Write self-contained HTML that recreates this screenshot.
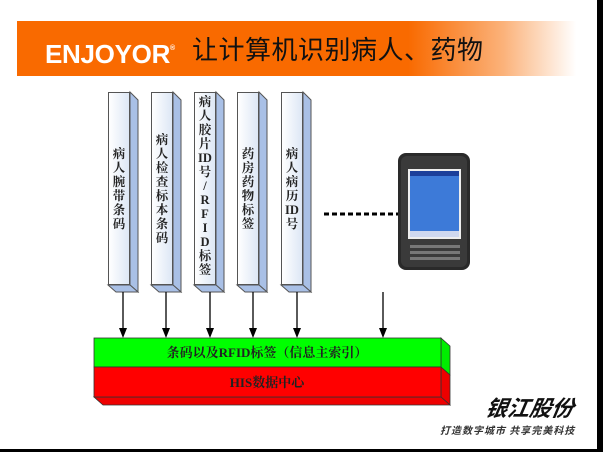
<!DOCTYPE html>
<html><head><meta charset="utf-8"><style>
body{margin:0;width:603px;height:452px;overflow:hidden;background:#fff;position:relative;font-family:"Liberation Serif","Noto Serif CJK SC",serif}
.banner{position:absolute;left:17px;top:21px;width:559px;height:55px;background:linear-gradient(90deg,#f96a00 0%,#f96a00 70%,#fbb27a 87%,#fff 100%)}
.en{position:absolute;left:45px;top:35px;font:bold 26px "Liberation Sans",sans-serif;color:#fff;letter-spacing:-0.3px;line-height:28px}
.ti{position:absolute;left:192px;top:30px;font:26px "Noto Sans CJK SC",sans-serif;color:#111;letter-spacing:0.5px;line-height:38px}
.col{position:absolute;top:92px;width:22px;height:193px;background:linear-gradient(90deg,#fff,#dde7f5);border:1px solid #555;box-sizing:border-box;display:flex;flex-direction:column;align-items:center;justify-content:center;font-size:12.5px;line-height:14px;font-weight:bold;color:#222}
.col span{display:block;text-align:center}
</style></head><body>
<div class="banner"></div>
<div class="en">ENJOYOR<sup style="font-size:7px;vertical-align:13px">®</sup></div>
<div class="ti">让计算机识别病人、药物</div>
<svg width="603" height="452" style="position:absolute;left:0;top:0">
<g fill="#a9c0e6" stroke="#555" stroke-width="1">
<polygon points="130,92 138,100 138,292 130,285"/><polygon points="108,285 130,285 138,292 116,292"/>
<polygon points="173,92 181,100 181,292 173,285"/><polygon points="151,285 173,285 181,292 159,292"/>
<polygon points="216,92 224,100 224,292 216,285"/><polygon points="194,285 216,285 224,292 202,292"/>
<polygon points="259,92 267,100 267,292 259,285"/><polygon points="237,285 259,285 267,292 245,292"/>
<polygon points="303,92 311,100 311,292 303,285"/><polygon points="281,285 303,285 311,292 289,292"/>
</g>
<g stroke="#000" stroke-width="1.3">
<line x1="123" y1="292" x2="123" y2="330"/><line x1="166" y1="292" x2="166" y2="330"/><line x1="210" y1="292" x2="210" y2="330"/><line x1="253" y1="292" x2="253" y2="330"/><line x1="297" y1="292" x2="297" y2="330"/><line x1="383" y1="292" x2="383" y2="330"/>
</g>
<g fill="#000">
<polygon points="119,328 127,328 123,338"/><polygon points="162,328 170,328 166,338"/><polygon points="206,328 214,328 210,338"/><polygon points="249,328 257,328 253,338"/><polygon points="293,328 301,328 297,338"/><polygon points="379,328 387,328 383,338"/>
</g>
<line x1="324" y1="214" x2="398" y2="214" stroke="#000" stroke-width="3" stroke-dasharray="5,3"/>
<polygon points="441,338 450,346 450,375 441,367" fill="#00ee00" stroke="#333" stroke-width="0.8"/>
<rect x="94" y="338" width="347" height="29" fill="#00ff00" stroke="#333" stroke-width="0.8"/>
<polygon points="441,367 450,375 450,405 441,397" fill="#ee0000" stroke="#333" stroke-width="0.8"/>
<polygon points="94,397 441,397 450,405 103,405" fill="#ee0000" stroke="#333" stroke-width="0.8"/>
<rect x="94" y="367" width="347" height="30" fill="#ff0000" stroke="#333" stroke-width="0.8"/>
<text x="267" y="357" font-size="13" font-weight="bold" text-anchor="middle" fill="#222">条码以及RFID标签（信息主索引）</text>
<text x="267" y="387" font-size="13" font-weight="bold" text-anchor="middle" fill="#222">HIS数据中心</text>
<rect x="398" y="153" width="72" height="117" rx="8" fill="#2a2a2a"/>
<rect x="401" y="156" width="66" height="111" rx="6" fill="#3a3a3a"/>
<rect x="408" y="169" width="53" height="70" fill="#eee"/>
<rect x="410" y="171" width="49" height="66" fill="#3d7ad8"/>
<rect x="410" y="171" width="49" height="5" fill="#1c3f9a"/>
<rect x="410" y="231" width="49" height="6" fill="#cfd8ef"/>
<g fill="#777"><rect x="410" y="245" width="50" height="3"/><rect x="410" y="251" width="50" height="3"/><rect x="410" y="257" width="50" height="3"/></g>
<rect x="597" y="0" width="6" height="452" fill="#000"/>
<rect x="0" y="449" width="603" height="3" fill="#000"/>
</svg>
<div class="col" style="left:108px"><span>病<br>人<br>腕<br>带<br>条<br>码</span></div>
<div class="col" style="left:151px"><span>病<br>人<br>检<br>查<br>标<br>本<br>条<br>码</span></div>
<div class="col" style="left:194px;justify-content:flex-start;padding-top:2px"><span>病<br>人<br>胶<br>片<br>ID<br>号<br>/<br>R<br>F<br>I<br>D<br>标<br>签</span></div>
<div class="col" style="left:237px"><span>药<br>房<br>药<br>物<br>标<br>签</span></div>
<div class="col" style="left:281px"><span>病<br>人<br>病<br>历<br>ID<br>号</span></div>
<div style="position:absolute;left:486px;top:391px;font:italic bold 22px 'Noto Sans CJK SC',sans-serif;color:#111;transform:skewX(-10deg)">银江股份</div>
<div style="position:absolute;left:440px;top:422px;font:italic bold 10px 'Noto Sans CJK SC',sans-serif;color:#333;letter-spacing:1px">打造数字城市 共享完美科技</div>
</body></html>
